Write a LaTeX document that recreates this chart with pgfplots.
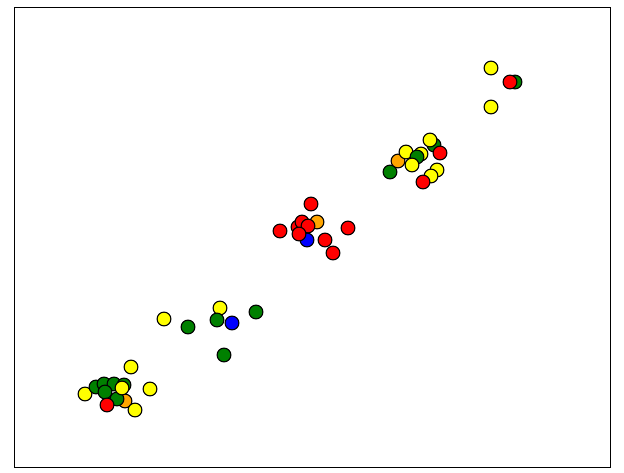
\documentclass[border=0pt]{standalone}
\usepackage{pgfplots}
\pgfplotsset{compat=1.18}
\definecolor{mgreen}{HTML}{008000}
\definecolor{myellow}{HTML}{FFFF00}
\definecolor{morange}{HTML}{FFA500}
\definecolor{mred}{HTML}{FF0000}
\definecolor{mblue}{HTML}{0000FF}
\begin{document}
\begin{tikzpicture}
\begin{axis}[scale only axis, width=596pt, height=460pt,
  xmin=14, xmax=610, ymin=5, ymax=465, xtick=\empty, ytick=\empty,
  axis line style={line width=0.9pt}, clip=false]
\addplot[scatter, only marks, mark=*, mark size=6.9pt,
  scatter src=explicit symbolic,
  scatter/classes={
    g={mark=*, draw=black, fill=mgreen, line width=1.1pt},
    y={mark=*, draw=black, fill=myellow, line width=1.1pt},
    o={mark=*, draw=black, fill=morange, line width=1.1pt},
    r={mark=*, draw=black, fill=mred, line width=1.1pt},
    b={mark=*, draw=black, fill=mblue, line width=1.1pt}}]
table[meta=c] {
x y c
85 78 y
131 105 y
150 83 y
96 85 g
104 88 g
114 88 g
124 87 g
105 80 g
125 71 o
117 73 g
107 67 r
135 62 y
122 84 y
164 153 y
188 145 g
220 164 y
217 152 g
232 149 b
256 160 g
224 117 g
311 268 r
280 241 r
317 250 o
298 245 r
302 250 r
308 246 r
307 232 b
299 238 r
325 232 r
333 219 r
348 244 r
390 300 g
398 311 o
406 320 y
421 318 y
417 315 g
412 307 y
434 327 g
430 332 y
440 319 r
437 302 y
431 296 y
423 290 r
491 404 y
515 390 g
510 390 r
491 365 y
};
\end{axis}
\path (current axis.south west) +(-14pt,-5pt) (current axis.north east) +(14pt,7pt);
\end{tikzpicture}
\end{document}
